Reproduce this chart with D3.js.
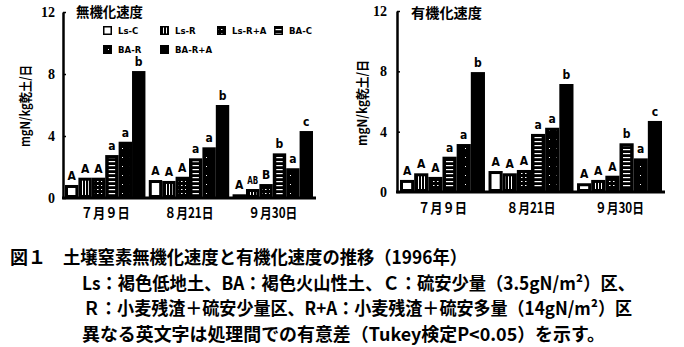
<!DOCTYPE html>
<html>
<head>
<meta charset="utf-8">
<script src="https://cdn.jsdelivr.net/npm/d3@7"></script>
<style>
  body { margin: 0; background: #fff; }
  svg { display: block; }
</style>
</head>
<body>
<svg id="fig" width="684" height="347"></svg>
<script>
// Sampling dates and treatments
const dates = ["７月９日", "８月21日", "９月30日"];
const treatments = ["Ls-C", "Ls-R", "Ls-R+A", "BA-C", "BA-R", "BA-R+A"];

// Net mineralization rate (mgN/kg dry soil/day), one row per date
const mineralValues = [
  [0.84, 1.31, 1.31, 2.77, 3.63, 8.19],
  [1.16, 1.10, 1.37, 2.56, 3.27, 6.00],
  [0.24, 0.58, 0.90, 2.88, 1.92, 4.32]
];
const mineralLetters = [
  ["A", "A", "A", "a", "a", "b"],
  ["A", "A", "A", "a", "a", "b"],
  ["A", "AB", "B", "b", "a", "c"]
];

// Immobilization rate (mgN/kg dry soil/day), one row per date
const immobValues = [
  [0.80, 1.24, 1.00, 2.34, 3.18, 7.95],
  [1.39, 1.24, 1.46, 3.85, 4.26, 7.16],
  [0.58, 0.80, 1.08, 3.23, 2.23, 4.71]
];
const immobLetters = [
  ["A", "A", "A", "a", "a", "b"],
  ["A", "A", "A", "a", "a", "b"],
  ["A", "A", "A", "b", "a", "c"]
];

const yTicks = [0, 4, 8, 12];
const yTitle = "mgN/kg乾土/日";
const panelTitles = ["無機化速度", "有機化速度"];

const captionHead = "図１";
const captionLines = [
  "土壌窒素無機化速度と有機化速度の推移（1996年）",
  "Ls：褐色低地土、BA：褐色火山性土、Ｃ：硫安少量（3.5gN/m²）区、",
  "Ｒ：小麦残渣＋硫安少量区、R+A：小麦残渣＋硫安多量（14gN/m²）区",
  "異なる英文字は処理間での有意差（Tukey検定P<0.05）を示す。"
];

const svg = d3.select("#fig");
const jp = "'Noto Sans CJK JP', sans-serif";
const latin = "'DejaVu Sans Condensed', 'DejaVu Sans', sans-serif";
const serif = "'Liberation Serif', serif";

// ---- fill patterns (white marks on black) ----
const defs = svg.append("defs");
function pattern(id, w, h, marks) {
  const p = defs.append("pattern").attr("id", id)
    .attr("patternUnits", "userSpaceOnUse").attr("width", w).attr("height", h);
  p.append("rect").attr("width", w).attr("height", h).attr("fill", "#000");
  marks.forEach(m => p.append("rect").attr("x", m[0]).attr("y", m[1])
    .attr("width", m[2]).attr("height", m[3]).attr("fill", "#fff"));
}
pattern("p-vlines", 3, 10, [[1, 0, 1, 10]]);
pattern("p-dots", 4, 4, [[1, 1, 1.5, 1]]);
pattern("p-hlines", 10, 4, [[0, 1, 10, 1.2]]);
pattern("p-sparse", 7, 9, [[3, 4, 1, 1]]);

// inner fill of each treatment: [fill, inset-x, inset-y]
const innerStyle = {
  "Ls-C":   ["#fff", 3, 3],
  "Ls-R":   ["url(#p-vlines)", 3, 3],
  "Ls-R+A": ["url(#p-dots)", 3, 3],
  "BA-C":   ["url(#p-hlines)", 3.5, 3],
  "BA-R":   ["url(#p-sparse)", 3, 3],
  "BA-R+A": null
};

function drawPanel(cfg) {
  const g = svg.append("g");
  const x = d3.scaleBand().domain(dates).range([cfg.x0, cfg.x1]).paddingInner(0.04);
  const xi = d3.scaleBand().domain(treatments).range([0, x.bandwidth()]);
  const y = d3.scaleLinear().domain([0, 12]).range([cfg.yBase, cfg.yTop]);

  const rows = dates.flatMap((d, i) => treatments.map((t, j) => ({
    date: d, trt: t, value: cfg.values[i][j], letter: cfg.letters[i][j]
  })));

  const bars = g.selectAll("g.bar").data(rows).join("g").attr("class", "bar");
  bars.append("rect")
    .attr("x", r => x(r.date) + xi(r.trt))
    .attr("y", r => y(r.value))
    .attr("width", xi.bandwidth())
    .attr("height", r => y(0) - y(r.value))
    .attr("fill", "#000");
  bars.filter(r => innerStyle[r.trt] && (y(0) - y(r.value)) > 2 * innerStyle[r.trt][2] + 1)
    .append("rect")
    .attr("x", r => x(r.date) + xi(r.trt) + innerStyle[r.trt][1])
    .attr("y", r => y(r.value) + innerStyle[r.trt][2])
    .attr("width", r => xi.bandwidth() - 2 * innerStyle[r.trt][1])
    .attr("height", r => y(0) - y(r.value) - 2 * innerStyle[r.trt][2])
    .attr("fill", r => innerStyle[r.trt][0]);

  // significance letters
  const lt = bars.append("text")
    .attr("x", r => x(r.date) + xi(r.trt) + xi.bandwidth() / 2)
    .attr("y", r => y(r.value) - 5)
    .attr("text-anchor", "middle")
    .attr("font-family", latin).attr("font-weight", "bold").attr("font-size", 12)
    .text(r => r.letter);
  lt.filter(r => r.letter.length > 1)
    .attr("font-size", 11)
    .attr("textLength", 11).attr("lengthAdjust", "spacingAndGlyphs");

  // y axis with inward ticks
  const ax = g.append("g").attr("transform", `translate(${cfg.axisX},0)`)
    .call(d3.axisLeft(y).tickValues(yTicks).tickSizeInner(-3).tickSizeOuter(0)
      .tickPadding(cfg.tickPad).tickFormat(d3.format("d")));
  ax.select(".domain").attr("stroke", "#000").attr("stroke-width", 2.5);
  ax.selectAll(".tick line").attr("stroke-width", 1.5);
  ax.selectAll(".tick text").attr("font-family", serif).attr("font-weight", "bold")
    .attr("font-size", 14).attr("fill", "#000");

  // baseline
  g.append("line").attr("x1", cfg.axisX - 1).attr("x2", cfg.axisEnd)
    .attr("y1", y(0)).attr("y2", y(0)).attr("stroke", "#000").attr("stroke-width", 3);

  // category labels
  g.selectAll("text.cat").data(dates).join("text").attr("class", "cat")
    .attr("x", d => x(d) + x.bandwidth() / 2)
    .attr("y", cfg.catY)
    .attr("text-anchor", "middle")
    .attr("font-family", jp).attr("font-weight", "bold").attr("font-size", 14)
    .attr("textLength", 49).attr("lengthAdjust", "spacingAndGlyphs")
    .text(d => d);

  // panel title
  g.append("text").attr("x", cfg.titleX).attr("y", cfg.titleY)
    .attr("font-family", jp).attr("font-weight", "bold").attr("font-size", 14)
    .attr("textLength", cfg.titleLen).attr("lengthAdjust", "spacingAndGlyphs")
    .text(cfg.title);

  // y title
  g.append("text")
    .attr("transform", `translate(${cfg.yTitleX},${cfg.yTitleY}) rotate(-90)`)
    .attr("text-anchor", "middle")
    .attr("font-family", jp).attr("font-weight", "bold").attr("font-size", 13)
    .attr("textLength", cfg.yTitleLen).attr("lengthAdjust", "spacingAndGlyphs")
    .text(yTitle);
}

drawPanel({
  title: panelTitles[0], values: mineralValues, letters: mineralLetters,
  x0: 65, x1: 313, axisX: 63, axisEnd: 316, yTop: 12, yBase: 198, tickPad: 8,
  catY: 218, titleX: 76, titleY: 17, titleLen: 67,
  yTitleX: 30, yTitleY: 106, yTitleLen: 82
});
drawPanel({
  title: panelTitles[1], values: immobValues, letters: immobLetters,
  x0: 400, x1: 662, axisX: 397, axisEnd: 665, yTop: 11, yBase: 192, tickPad: 10,
  catY: 213, titleX: 411, titleY: 18, titleLen: 71,
  yTitleX: 367, yTitleY: 103, yTitleLen: 86
});

// legend (treatment key) inside the first panel
const legend = svg.append("g");
treatments.forEach((t, k) => {
  const col = k % 4, row = Math.floor(k / 4);
  const lx = 103 + col * 57, ly = 26 + row * 19;
  legend.append("rect").attr("x", lx).attr("y", ly).attr("width", 9).attr("height", 9).attr("fill", "#000");
  const st = innerStyle[t];
  if (st) {
    legend.append("rect").attr("x", lx + 1.5).attr("y", ly + 1.5).attr("width", 6).attr("height", 6)
      .attr("fill", st[0]);
  }
  legend.append("text").attr("x", lx + 15).attr("y", ly + 8)
    .attr("font-family", latin).attr("font-weight", "bold").attr("font-size", 9.5)
    .text(t);
});

// caption
const cap = svg.append("g").attr("font-family", jp).attr("font-weight", "bold")
  .attr("font-size", 18).attr("fill", "#000");
cap.append("text").attr("x", 10).attr("y", 264).text(captionHead);
const capX = [63, 82, 83, 82];
const capLen = [404, 553, 549, 523];
captionLines.forEach((line, i) => {
  cap.append("text").attr("x", capX[i]).attr("y", 264 + i * 25.7)
    .attr("textLength", capLen[i]).attr("lengthAdjust", "spacingAndGlyphs")
    .text(line);
});
</script>
</body>
</html>
